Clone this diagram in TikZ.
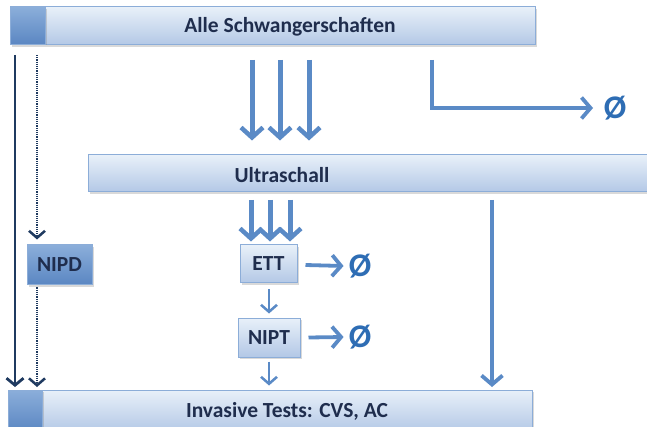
\documentclass[tikz,border=0pt]{standalone}
\usepackage{fontspec}
\setmainfont{Carlito}
\usetikzlibrary{arrows.meta,calc,shadows}
\definecolor{barTop}{HTML}{E8F0F9}
\definecolor{barBot}{HTML}{B3C8E6}
\definecolor{barLine}{HTML}{8CADD8}
\definecolor{sqTop}{HTML}{8BAEDA}
\definecolor{sqBot}{HTML}{5A86C2}
\definecolor{arrBlue}{HTML}{5A8AC6}
\definecolor{darkNavy}{HTML}{1F3A60}
\definecolor{txt}{HTML}{1F2D4D}
\definecolor{emptyBlue}{HTML}{2E6DB4}
\begin{document}
\begin{tikzpicture}[x=1pt,y=-1pt,
  shad/.style={drop shadow={opacity=0.3, shadow xshift=1.5pt, shadow yshift=-2pt}},
  bar/.style={draw=barLine, line width=1pt, top color=barTop, bottom color=barBot, inner sep=0pt, shad},
  sq/.style={draw=barLine, line width=1pt, top color=sqTop, bottom color=sqBot, inner sep=0pt, shad},
  lbl/.style={text=txt, font=\fontsize{21.5}{24}\selectfont\bfseries, inner sep=0pt},
  smallbox/.style={bar, text=txt, font=\fontsize{21.5}{24}\selectfont\bfseries},
  empty/.style={text=emptyBlue, font=\fontsize{33}{36}\selectfont\bfseries, inner sep=0pt},
  thick arr/.style={draw=arrBlue, line width=5pt, -{Straight Barb[length=10pt,width=22pt,line width=4.5pt]}},
  mid arr/.style={draw=arrBlue, line width=3.8pt, -{Straight Barb[length=9pt,width=21pt,line width=3.8pt]}},
  thin arr/.style={draw=arrBlue, line width=2.3pt, -{Straight Barb[length=7pt,width=16pt,line width=2.5pt]}},
  dark arr/.style={draw=darkNavy, line width=2.6pt, -{Straight Barb[length=7pt,width=17pt,line width=2.8pt]}},
  dot arr/.style={draw=darkNavy, line width=1.2pt, densely dotted, -{Straight Barb[length=7pt,width=16pt,line width=2.5pt,sep=0pt]}},
]
\useasboundingbox (0,0) rectangle (647,427);
\clip (0,0) rectangle (647,427);

% bars
\node[bar, minimum width=490pt, minimum height=38pt] (top) at (290,26) {};
\node[sq, minimum width=35pt, minimum height=38pt] (topsq) at (27.5,26) {};
\node[lbl] (toplbl) at (290,27) {Alle Schwangerschaften};

\node[bar, minimum width=570pt, minimum height=37pt] (us) at (373,173.5) {};
\node[lbl] (uslbl) at (282,175) {Ultraschall};

\node[bar, minimum width=490pt, minimum height=42pt] (inv) at (287,411) {};
\node[sq, minimum width=34pt, minimum height=42pt] (invsq) at (25,411) {};
\node[lbl] (invlbl) at (287,411) {Invasive Tests: CVS, AC};

% small boxes
\node[smallbox, minimum width=57pt, minimum height=38pt] (ett) at (268.5,264) {ETT};
\node[smallbox, minimum width=62pt, minimum height=39pt] (nipt) at (269,337.5) {NIPT};
\node[sq, text=txt, font=\fontsize{21.5}{24}\selectfont\bfseries, minimum width=65pt, minimum height=40pt] (nipd) at (59.5,265) {NIPD};

% empty set symbols
\node[empty] (e1) at (615,108) {Ø};
\node[empty] (e2) at (360,266) {Ø};
\node[empty] (e3) at (360,337) {Ø};

% coordinates
\coordinate (d1s) at (15,55);
\coordinate (d1e) at (15,387);
\coordinate (d2s) at (37,55);
\coordinate (d2e) at (37,387);
\coordinate (t1) at (252,60);
\coordinate (t2) at (280,60);
\coordinate (t3) at (309,60);
\coordinate (els) at (432,60);
\coordinate (ele) at (593,108);
\coordinate (rvs) at (492,200);
\coordinate (rve) at (492,387);
\coordinate (u1) at (251,200);
\coordinate (u2) at (270,200);
\coordinate (u3) at (290,200);

% connectors
\draw[dark arr] (d1s) -- (d1e);
\draw[dot arr] (d2s) -- ($(d2s |- nipd.north)+(0,-5)$);
\draw[dot arr] ($(d2s |- nipd.south)+(0,2)$) -- (d2e);

\foreach \c in {t1,t2,t3}
  \draw[thick arr] (\c) -- ($(\c |- us.north)+(0,-14)$);
\draw[mid arr] (els) |- (ele);

\foreach \c in {u1,u2,u3}
  \draw[thick arr] (\c) -- ($(\c |- ett.north)+(0,-3)$);

\draw[mid arr] ($(ett.east)+(8,1)$) -- ($(e2.west)+(-5,0)$);
\draw[mid arr] ($(nipt.east)+(8,0)$) -- ($(e3.west)+(-5,0)$);
\draw[thin arr] ($(ett.south)+(0.5,6)$) -- ($(nipt.north)+(0,-4)$);
\draw[thin arr] ($(nipt.south)+(0,4)$) -- ($(nipt.south |- inv.north)+(0,-4)$);
\draw[mid arr] (rvs) -- (rve);
\end{tikzpicture}
\end{document}
